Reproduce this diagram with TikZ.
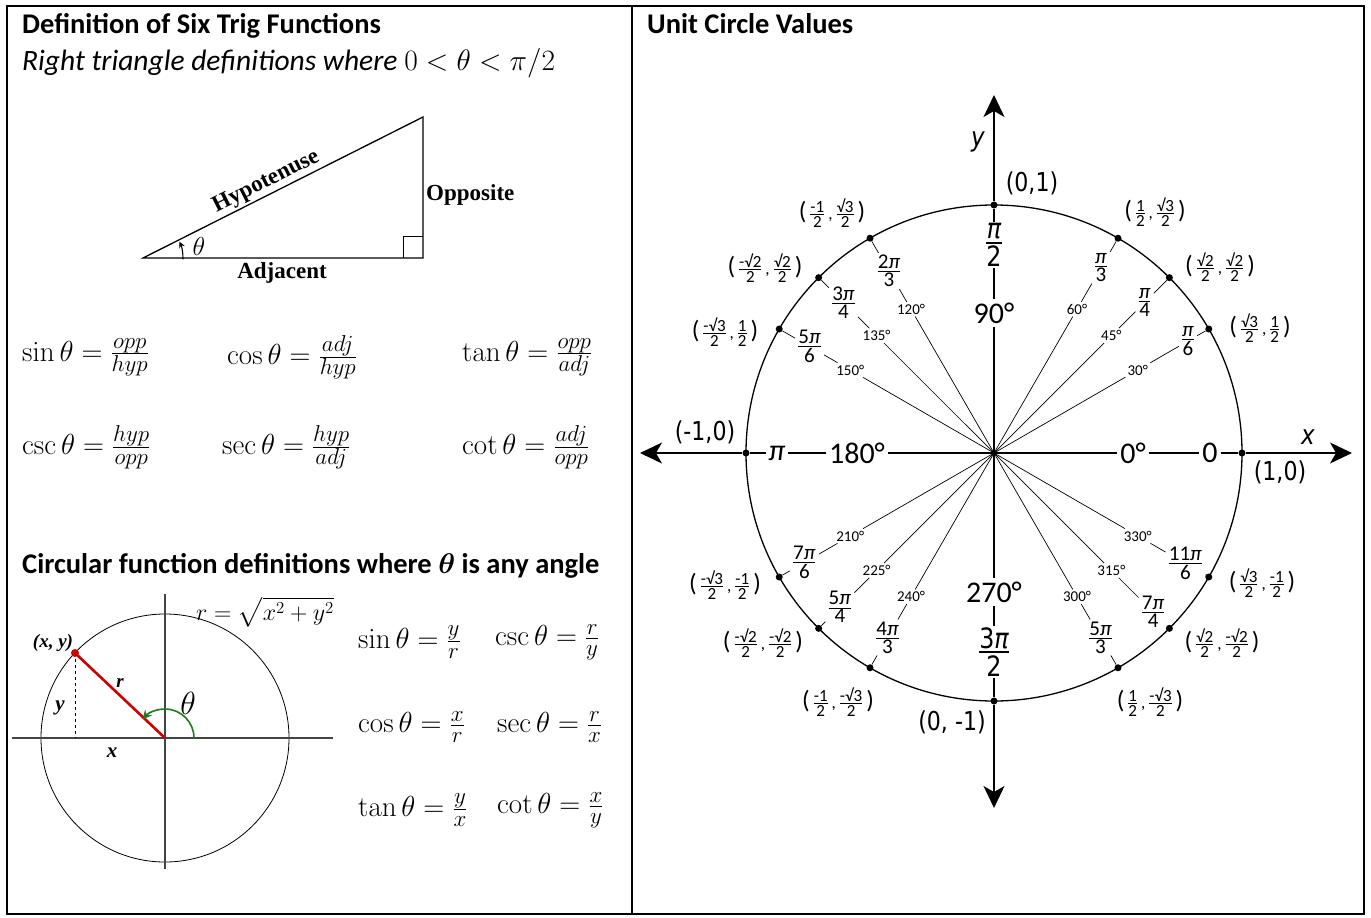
\RequirePackage{fix-cm}
\documentclass[tikz,border=0pt]{standalone}
\usepackage{amsmath}
\usepackage[no-math]{fontspec}
\setmainfont{Carlito}
\newfontfamily\timesfont{Liberation Serif}
\newfontfamily\ucfont[FakeStretch=0.85]{DejaVu Sans}
\usepackage{tikz}
\usetikzlibrary{arrows.meta,calc}
\usepackage{xcolor}
\definecolor{redline}{HTML}{CC0000}
\definecolor{greenarc}{HTML}{1E7B1E}
\definecolor{axisgray}{HTML}{444444}
\DeclareMathSizes{29}{29}{23}{17}
\newcommand\sz[1]{\fontsize{#1}{#1}\selectfont}
\newcommand\fr[3][0.9pt]{\ensuremath{\genfrac{}{}{#1}{}{\hbox{#2}}{\hbox{#3}}}}
\newcommand\pp{{\itshape π}}
\newcommand\cpt[4]{{\sz{25}(}\,\fr{#1}{#2}\,,\,\fr{#3}{#4}\,{\sz{25})}}

\begin{document}
\begin{tikzpicture}[x=1pt,y=1pt,>=Stealth,
  frm/.style={anchor=west,inner sep=0,font=\sz{29}},
  head/.style={anchor=base west,inner sep=0,font=\bfseries\sz{28.5}},
  tlab/.style={font=\timesfont\bfseries\sz{23}},
  clab/.style={font=\timesfont\bfseries\itshape\sz{19},inner sep=1pt},
  dot/.style={circle,fill,inner sep=0,minimum size=7pt},
  deg/.style={font=\sz{15},inner sep=2pt},
  rad/.style={font=\sz{21},inner sep=2pt},
  big/.style={font=\sz{30},inner sep=3pt},
  coord/.style={font=\sz{17},inner sep=0},
  ray/.style={line width=0.7pt},
  axis/.style={line width=1.3pt},
  axtip/.style={line width=1.3pt,-{Stealth[length=22pt,width=21pt,inset=6pt]}}]
  \useasboundingbox (0,0) rectangle (1371,-918);
  % 外框
  \draw[line width=2.5pt] (7,-6) rectangle (1364,-914);
  \draw[line width=2.5pt] (632,-6) -- (632,-914);

  % 左栏：直角三角形
  \node[head] (title1) at (22,-34) {Definition of Six Trig Functions};
  \node[head,font=\itshape\sz{29.5}] (sub1) at (22,-70) {Right triangle definitions where $0<\theta<\pi/2$};
  \coordinate (A) at (143,-258); \coordinate (B) at (423,-258); \coordinate (C) at (423,-117);
  \draw[line width=1.3pt] (A) -- (B) -- (C) -- cycle;
  \draw[line width=1pt] ($(B)+(-20,0)$) -- ++(0,22) -- ++(20,0);
  \path (A) -- (C) node[tlab,pos=0.46,sloped,above,inner sep=2pt] (hyp) {Hypotenuse};
  \node[tlab,anchor=west,inner sep=1pt] (opp) at (425,-195) {Opposite};
  \node[tlab] (adj) at (282,-273) {Adjacent};
  \node[font=\sz{26}] (th1) at (199,-246) {$\theta$};
  \draw[line width=1.1pt,-{Stealth[length=6pt,width=6pt]}] ($(A)+(-2:40)$) arc (-2:24:40);

  % 六个定义
  \node[frm] (sin1) at (22,-357) {$\sin\theta=\frac{opp}{hyp}$};
  \node[frm] (cos1) at (227,-357) {$\cos\theta=\frac{adj}{hyp}$};
  \node[frm] (tan1) at (462,-357) {$\tan\theta=\frac{opp}{adj}$};
  \node[frm] (csc1) at (22,-447) {$\csc\theta=\frac{hyp}{opp}$};
  \node[frm] (sec1) at (222,-447) {$\sec\theta=\frac{hyp}{adj}$};
  \node[frm] (cot1) at (462,-447) {$\cot\theta=\frac{adj}{opp}$};

  % 左栏：圆
  \node[head] (title2) at (22,-573) {Circular function definitions where {\boldmath$\theta$} is any angle};
  \coordinate (O2) at (165,-738);
  \draw[line width=0.8pt] (O2) circle (124);
  \draw[line width=1.3pt,axisgray] (12,-738) -- (333,-738);
  \draw[line width=1.3pt,axisgray] (165,-594) -- (165,-869);
  \coordinate (P2) at (75,-653);
  \draw[line width=0.8pt,dashed] (P2) -- (75,-738);
  \draw[redline,line width=2.6pt] (O2) -- (P2);
  \fill[redline] (P2) circle (4);
  \node[clab] (xy) at (53,-643) {(x, y)};
  \node[clab] (rlab) at (120,-683) {r};
  \node[clab,font=\timesfont\bfseries\itshape\sz{21}] (ylab) at (60,-708) {y};
  \node[clab,font=\timesfont\bfseries\itshape\sz{21}] (xlab) at (112,-753) {x};
  \node[font=\sz{32}] (th2) at (188,-703) {$\theta$};
  \draw[greenarc,line width=1.6pt,-{Stealth[length=9pt,width=9pt]}] ($(O2)+(29,0)$) arc (0:140:29);
  \node[font=\sz{24},inner sep=0] (rform) at (265,-612) {$r=\sqrt{x^2+y^2}$};
  \node[frm] (sin2) at (358,-642) {$\sin\theta=\frac{y}{r}$};
  \node[frm] (csc2) at (495,-642) {$\csc\theta=\frac{r}{y}$};
  \node[frm] (cos2) at (358,-727) {$\cos\theta=\frac{x}{r}$};
  \node[frm] (sec2) at (497,-727) {$\sec\theta=\frac{r}{x}$};
  \node[frm] (tan2) at (358,-810) {$\tan\theta=\frac{y}{x}$};
  \node[frm] (cot2) at (497,-810) {$\cot\theta=\frac{x}{y}$};

  % 右栏：单位圆
  \node[head] (title3) at (647,-34) {Unit Circle Values};
  \begin{scope}[shift={(994,-453)},font=\ucfont]
    \coordinate (O) at (0,0);
    \draw[line width=1.3pt] (O) circle (248);
    \foreach \a in {0,30,45,60,90,120,135,150,180,210,225,240,270,300,315,330}
      \node[dot] (p\a) at (\a:248) {};
    % 坐标轴
    \coordinate (xr) at (358,0); \coordinate (xl) at (-354,0);
    \coordinate (yt) at (0,358); \coordinate (yb) at (0,-355);
    \node[big] (d0) at (0:139) {0°};
    \node[big] (d90) at (90:140) {90°};
    \node[big] (d180) at (180:137) {180°};
    \node[big] (d270) at (270:139) {270°};
    \node[big] (r0) at (0:216) {0};
    \node[big] (r180) at (180:217) {\pp};
    \node[big,font=\ucfont\sz{28},inner sep=1pt] (r90) at (90:208) {\fr[2.2pt]{\pp}{2}};
    \node[big,font=\ucfont\sz{28},inner sep=1pt] (r270) at (270:199) {\fr[2.2pt]{3\pp}{2}};
    \draw[axis] (O) -- (d0) (d0) -- (r0) (r0) -- (p0);
    \draw[axis] (O) -- (d180) (d180) -- (r180) (r180) -- (p180);
    \draw[axis] (O) -- (d90) (d90) -- (r90) (r90) -- (p90);
    \draw[axis] (O) -- (d270) (d270) -- (r270) (r270) -- (p270);
    \draw[axtip] (p0) -- (xr);
    \draw[axtip] (p180) -- (xl);
    \draw[axtip] (p90) -- (yt);
    \draw[axtip] (p270) -- (yb);
    \node[font=\ucfont\itshape\sz{27}] (xname) at (314,16) {x};
    \node[font=\ucfont\itshape\sz{27}] (yname) at (-16,311) {y};
    \node[font=\ucfont\sz{26}] (c0) at (286,-19) {(1,0)};
    \node[font=\ucfont\sz{26}] (c90) at (38,270) {(0,1)};
    \node[font=\ucfont\sz{26}] (c180) at (-289,21) {(-1,0)};
    \node[font=\ucfont\sz{26}] (c270) at (-42,-269) {(0, -1)};
    % 其余角
    \foreach \a/\rr/\rlab/\cx/\cy/\clab in {
      30/224/{\fr{\pp}{6}}/266/125/{\cpt{√3}{2}{1}{2}},
      45/213/{\fr{\pp}{4}}/226/186/{\cpt{√2}{2}{√2}{2}},
      60/214/{\fr{\pp}{3}}/161/241/{\cpt{1}{2}{√3}{2}},
      120/210/{\fr{2\pp}{3}}/-162/240/{\cpt{-1}{2}{√3}{2}},
      135/213/{\fr{3\pp}{4}}/-229/185/{\cpt{-√2}{2}{√2}{2}},
      150/213/{\fr{5\pp}{6}}/-269/121/{\cpt{-√3}{2}{1}{2}},
      210/219/{\fr{7\pp}{6}}/-269/-132/{\cpt{-√3}{2}{-1}{2}},
      225/218/{\fr{5\pp}{4}}/-231/-190/{\cpt{-√2}{2}{-√2}{2}},
      240/213/{\fr{4\pp}{3}}/-156/-249/{\cpt{-1}{2}{-√3}{2}},
      300/213/{\fr{5\pp}{3}}/156/-249/{\cpt{1}{2}{-√3}{2}},
      315/225/{\fr{7\pp}{4}}/228/-190/{\cpt{√2}{2}{-√2}{2}},
      330/221/{\fr{11\pp}{6}}/268/-130/{\cpt{√3}{2}{-1}{2}}}
    {
      \node[deg] (d\a) at (\a:166) {\a{}°};
      \node[rad] (r\a) at (\a:\rr) {\rlab};
      \node[coord] (c\a) at (\cx,\cy) {\clab};
      \draw[ray] (O) -- (d\a) (d\a) -- (r\a) (r\a) -- (p\a);
    }
  \end{scope}
\end{tikzpicture}
\end{document}
